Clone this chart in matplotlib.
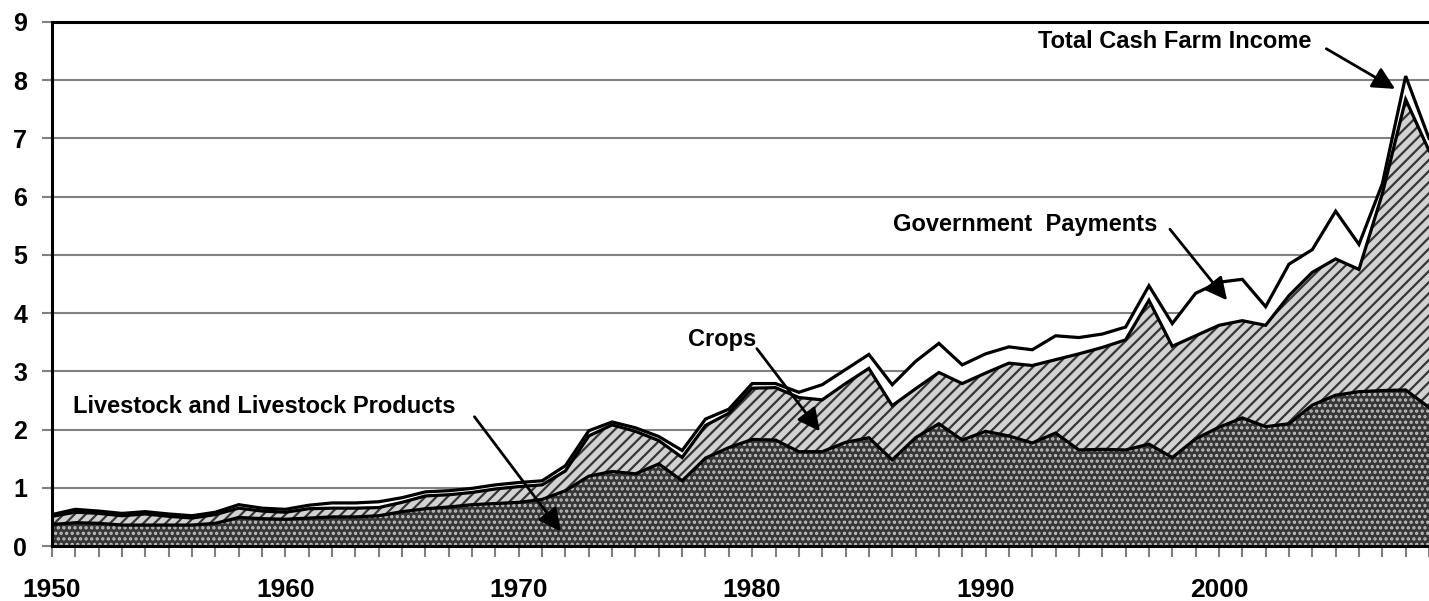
import matplotlib
matplotlib.use("Agg")
import matplotlib.pyplot as plt
import numpy as np

plt.rcParams['font.family'] = ['Liberation Sans', 'DejaVu Sans']
plt.rcParams['font.weight'] = 'bold'
plt.rcParams['hatch.linewidth'] = 1.6

# data (stacked components)
years = list(range(1950, 2010))
livestock = [0.37, 0.40, 0.39, 0.36, 0.36, 0.36, 0.36, 0.39, 0.49, 0.47,
             0.46, 0.48, 0.50, 0.50, 0.52, 0.59, 0.64, 0.67, 0.71, 0.73,
             0.75, 0.80, 0.95, 1.20, 1.28, 1.24, 1.41, 1.12, 1.51, 1.69,
             1.83, 1.82, 1.62, 1.62, 1.78, 1.86, 1.48, 1.86, 2.10, 1.82,
             1.97, 1.89, 1.77, 1.94, 1.65, 1.66, 1.65, 1.75, 1.52, 1.84,
             2.04, 2.20, 2.05, 2.10, 2.42, 2.59, 2.65, 2.67, 2.68, 2.38]
crops = [0.14, 0.18, 0.17, 0.16, 0.19, 0.15, 0.12, 0.15, 0.16, 0.13,
         0.12, 0.16, 0.15, 0.15, 0.14, 0.16, 0.22, 0.21, 0.21, 0.25,
         0.27, 0.25, 0.34, 0.69, 0.80, 0.73, 0.40, 0.40, 0.56, 0.59,
         0.88, 0.90, 0.93, 0.89, 1.01, 1.19, 0.93, 0.84, 0.88, 0.97,
         1.00, 1.25, 1.33, 1.26, 1.65, 1.75, 1.89, 2.47, 1.91, 1.77,
         1.75, 1.67, 1.74, 2.20, 2.28, 2.34, 2.10, 3.38, 4.99, 4.41]
gov_payments = [0.03, 0.05, 0.04, 0.04, 0.04, 0.04, 0.04, 0.04, 0.06, 0.05,
                0.05, 0.06, 0.09, 0.09, 0.10, 0.08, 0.07, 0.07, 0.07, 0.07,
                0.07, 0.07, 0.09, 0.09, 0.05, 0.06, 0.07, 0.12, 0.11, 0.07,
                0.08, 0.07, 0.09, 0.26, 0.24, 0.24, 0.36, 0.47, 0.50, 0.32,
                0.33, 0.28, 0.27, 0.41, 0.28, 0.23, 0.22, 0.25, 0.39, 0.73,
                0.74, 0.71, 0.32, 0.54, 0.39, 0.82, 0.43, 0.17, 0.40, 0.21]
y_ticks = [0, 1, 2, 3, 4, 5, 6, 7, 8, 9]
x_labels = [1950, 1960, 1970, 1980, 1990, 2000]

x = np.array(years)
stack = np.cumsum(np.vstack([livestock, crops, gov_payments]), axis=0)

fig = plt.figure(figsize=(14.29, 6.01), dpi=100)
ax = fig.add_axes([0.0364, 0.0915, 0.9636, 0.872])

# areas
ax.fill_between(x, 0, stack[0], facecolor='#363636', edgecolor='#c0c0c0',
                hatch='...', linewidth=0, zorder=2)
ax.fill_between(x, stack[0], stack[1], facecolor='#d2d2d2', edgecolor='#363636',
                hatch='///', linewidth=0, zorder=2)
ax.fill_between(x, stack[1], stack[2], facecolor='white', linewidth=0, zorder=2)
for row in stack:
    ax.plot(x, row, color='black', lw=2.3, zorder=3, solid_joinstyle='miter')

ax.set_xlim(1950, 2008.64)
ax.set_ylim(0, 9)
ax.set_axisbelow(True)
ax.yaxis.grid(True, color='#808080', lw=1.5)
ax.set_yticks(y_ticks)
ax.set_xticks(years, minor=True)
ax.set_xticks(x_labels)
ax.tick_params(axis='y', length=7, width=1.5, color='#808080', labelsize=18, pad=11)
ax.tick_params(axis='x', which='both', length=8, width=1.5, color='#808080',
               labelsize=19, pad=15)
for lab in ax.get_xticklabels() + ax.get_yticklabels():
    lab.set_fontweight('bold')
ax.spines['right'].set_visible(False)
for s in ['left', 'bottom', 'top']:
    ax.spines[s].set_linewidth(2.2)
    ax.spines[s].set_color('black')
ax.spines['left'].set_zorder(5)
ax.spines['bottom'].set_zorder(5)

arrow = dict(arrowstyle='-|>', color='black', lw=2, mutation_scale=34,
             shrinkA=0, shrinkB=0)
ax.text(1998.1, 8.66, 'Total Cash Farm Income', ha='center', va='center',
        fontsize=17, fontweight='bold', zorder=6)
ax.annotate('', xy=(2007.55, 7.85), xytext=(2004.6, 8.54), arrowprops=arrow, zorder=6)
ax.text(1991.7, 5.52, 'Government  Payments', ha='center', va='center',
        fontsize=17, fontweight='bold', zorder=6)
ax.annotate('', xy=(2000.35, 4.22), xytext=(1997.9, 5.44), arrowprops=arrow, zorder=6)
ax.text(1978.7, 3.55, 'Crops', ha='center', va='center',
        fontsize=17, fontweight='bold', zorder=6)
ax.annotate('', xy=(1982.9, 1.97), xytext=(1980.2, 3.39), arrowprops=arrow, zorder=6)
ax.text(1959.1, 2.39, 'Livestock and Livestock Products', ha='center', va='center',
        fontsize=17, fontweight='bold', zorder=6)
ax.annotate('', xy=(1971.8, 0.25), xytext=(1968.1, 2.22), arrowprops=arrow, zorder=6)

fig.savefig('out.png', dpi=100)
